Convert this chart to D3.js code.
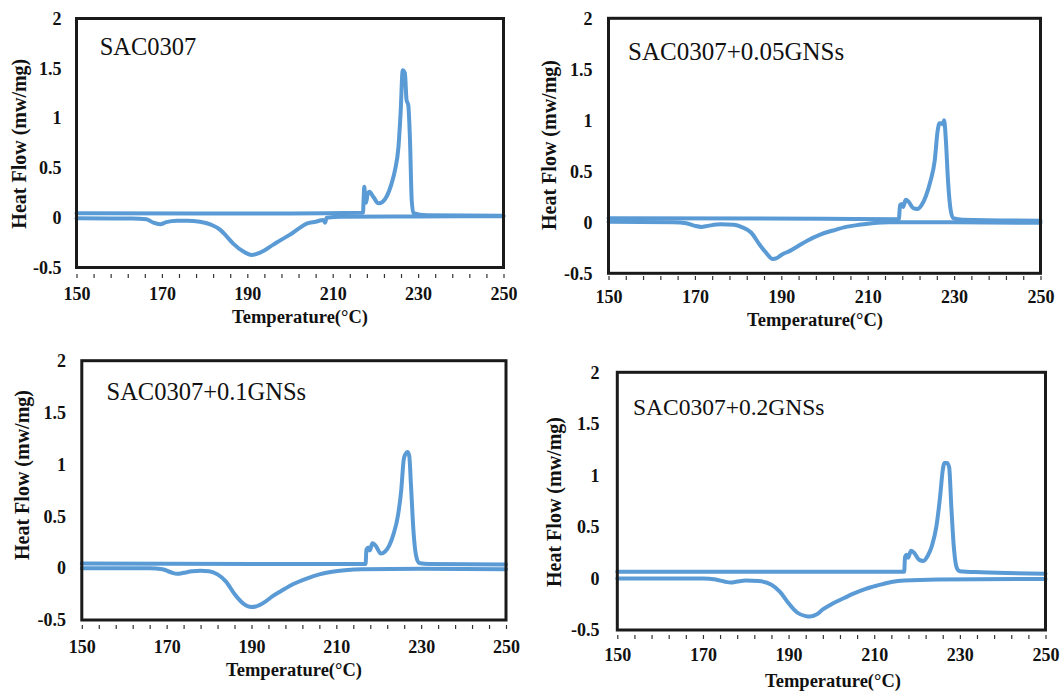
<!DOCTYPE html>
<html>
<head>
<meta charset="utf-8">
<script src="https://cdn.jsdelivr.net/npm/d3@7"></script>
<style>
  body { margin: 0; background: #fff; }
  svg { display: block; }
  text { font-family: "Liberation Serif", "Times New Roman", serif; fill: #111; }
</style>
</head>
<body>
<svg id="chart" width="1061" height="694"></svg>
<script>
// axis values
const xTickLabels = [150, 170, 190, 210, 230, 250];
const xMinorTicks = d3.range(150, 251, 4);
const yTickLabels = [-0.5, 0, 0.5, 1, 1.5, 2];
const panelNames = ["SAC0307", "SAC0307+0.05GNSs", "SAC0307+0.1GNSs", "SAC0307+0.2GNSs"];

// [temperature °C, heat flow mw/mg]
const sac0307Heating = [[150,0.044],[180,0.042],[200,0.042],[217.1,0.05],[217.25,0.2],[217.4,0.31],[217.6,0.2],[217.8,0.15],[218.2,0.24],[218.6,0.26],[219.5,0.21],[220.7,0.145],[221.7,0.16],[222.6,0.21],[223.8,0.345],[224.6,0.48],[225.4,0.71],[225.9,1.05],[226.4,1.48],[226.9,1.45],[227.3,1.18],[227.7,1.13],[228.1,0.78],[228.5,0.18],[228.9,0.045],[232,0.025],[250,0.02]];
const sac0307Cooling = [[150,-0.006],[163,-0.008],[166.4,-0.016],[168,-0.05],[169.6,-0.066],[171,-0.045],[173.5,-0.03],[176,-0.03],[178.9,-0.04],[181.5,-0.07],[183.6,-0.12],[185,-0.18],[186.7,-0.26],[189.1,-0.34],[191,-0.375],[193,-0.35],[196.1,-0.27],[198,-0.22],[200,-0.17],[202,-0.11],[203.9,-0.06],[206,-0.04],[207.8,-0.023],[208.2,-0.05],[208.6,0.0],[212,0.01],[230,0.012],[250,0.015]];

const gns005Heating = [[150,0.04],[200,0.035],[217.2,0.03],[217.5,0.17],[217.9,0.18],[218.2,0.15],[218.8,0.22],[219.5,0.2],[220.5,0.14],[221.5,0.13],[222.5,0.17],[223.5,0.26],[224.5,0.4],[225.5,0.6],[226.2,0.9],[226.6,0.97],[227.0,0.97],[227.4,0.96],[227.7,1.0],[228.1,0.8],[228.6,0.4],[229.2,0.12],[229.8,0.04],[232,0.025],[250,0.015]];
const gns005Cooling = [[150,0.005],[165,0.0],[168,-0.01],[170,-0.035],[171.5,-0.045],[173,-0.035],[176,-0.02],[179,-0.025],[181,-0.05],[183,-0.1],[185,-0.22],[186.5,-0.3],[188,-0.36],[189,-0.35],[190,-0.32],[192,-0.28],[194,-0.23],[196,-0.18],[199,-0.12],[202,-0.08],[205,-0.045],[208,-0.025],[211,-0.01],[215,0.0],[230,0.0],[250,-0.005]];

const gns01Heating = [[150,0.045],[200,0.04],[216.9,0.04],[217.1,0.18],[217.6,0.2],[217.9,0.17],[218.5,0.24],[219.2,0.22],[220.5,0.14],[221.5,0.16],[222.5,0.22],[223.5,0.33],[224.5,0.5],[225.3,0.75],[225.9,1.05],[226.3,1.1],[226.8,1.12],[227.2,1.08],[227.6,0.8],[228.2,0.35],[228.8,0.12],[229.5,0.05],[232,0.04],[250,0.035]];
const gns01Cooling = [[150,0.0],[166,0.0],[169,-0.01],[171,-0.04],[172.5,-0.055],[174,-0.045],[176,-0.03],[178,-0.025],[180,-0.03],[182,-0.06],[184,-0.13],[186,-0.25],[188,-0.34],[190,-0.375],[191,-0.37],[193,-0.33],[195,-0.27],[197,-0.22],[200,-0.15],[203,-0.1],[206,-0.06],[209,-0.035],[212,-0.02],[216,-0.01],[230,-0.005],[250,-0.01]];

const gns02Heating = [[150,0.065],[200,0.065],[217.0,0.065],[217.2,0.21],[217.6,0.23],[217.9,0.2],[218.6,0.27],[219.3,0.25],[220.5,0.18],[221.5,0.17],[222.5,0.22],[223.5,0.32],[224.5,0.5],[225.4,0.8],[226.0,1.05],[226.4,1.12],[227.0,1.12],[227.5,1.08],[228.0,0.7],[228.6,0.3],[229.3,0.1],[230,0.07],[235,0.06],[250,0.045]];
const gns02Cooling = [[150,0.0],[170,0.0],[173,-0.01],[175,-0.03],[176.5,-0.04],[178,-0.03],[180,-0.02],[183,-0.025],[186,-0.06],[188,-0.13],[190,-0.24],[192,-0.33],[194,-0.365],[195,-0.37],[196.5,-0.35],[198,-0.3],[200,-0.25],[203,-0.19],[205,-0.15],[208,-0.1],[211,-0.065],[214,-0.035],[217,-0.02],[225,-0.01],[250,-0.005]];

const svg = d3.select("#chart");

// panel placement (box edges, label positions) in pixels
const panels = [
  { name: panelNames[0], series: [sac0307Cooling, sac0307Heating], annSize: 24.5,
    left: 76.5, top: 18.5, right: 503.5, bottom: 267.5, tickY: 274, xLabY: 294, titleX: 300, titleY: 323,
    yLabRight: 61.5, yTitleX: 19.3, yTitleY: 143.7, annX: 99.7, annY: 55 },
  { name: panelNames[1], series: [gns005Cooling, gns005Heating], annSize: 25,
    left: 608.5, top: 18.3, right: 1040.5, bottom: 273.3, tickY: 276, xLabY: 297, titleX: 815, titleY: 326,
    yLabRight: 592.6, yTitleX: 548.6, yTitleY: 145, annX: 628, annY: 60 },
  { name: panelNames[2], series: [gns01Cooling, gns01Heating], annSize: 24.5,
    left: 81.8, top: 360.7, right: 506, bottom: 620, tickY: 625, xLabY: 647, titleX: 294, titleY: 676,
    yLabRight: 66, yTitleX: 22, yTitleY: 475, annX: 106.5, annY: 400 },
  { name: panelNames[3], series: [gns02Cooling, gns02Heating], annSize: 23.5,
    left: 617.3, top: 372.3, right: 1045.5, bottom: 630, tickY: 635, xLabY: 655, titleX: 833, titleY: 687,
    yLabRight: 599.4, yTitleX: 553.7, yTitleY: 502, annX: 633, annY: 415 }
];

panels.forEach(p => {
  const g = svg.append("g");

  const x = d3.scaleLinear().domain([150, 250]).range([p.left, p.right]);
  const y = d3.scaleLinear().domain([-0.5, 2]).range([p.bottom, p.top]);

  const line = d3.line()
    .x(d => x(d[0]))
    .y(d => y(d[1]))
    .curve(d3.curveMonotoneX);

  // curves
  g.selectAll(".curve")
    .data(p.series)
    .enter()
    .append("path")
    .attr("class", "curve")
    .attr("d", line)
    .attr("fill", "none")
    .attr("stroke", "#5b9bd5")
    .attr("stroke-width", 4)
    .attr("stroke-linejoin", "round")
    .attr("stroke-linecap", "round");

  // frame
  g.append("rect")
    .attr("x", p.left)
    .attr("y", p.top)
    .attr("width", p.right - p.left)
    .attr("height", p.bottom - p.top)
    .attr("fill", "none")
    .attr("stroke", "#1a1a1a")
    .attr("stroke-width", 3);

  // small ticks under the frame
  const minor = g.append("g")
    .attr("transform", "translate(0," + p.tickY + ")")
    .call(d3.axisBottom(x).tickValues(xMinorTicks).tickSize(4).tickFormat(""));
  minor.select(".domain").remove();
  minor.selectAll(".tick line").attr("stroke", "#333").attr("stroke-width", 1.2);

  // x labels
  const xa = g.append("g")
    .attr("transform", "translate(0," + p.xLabY + ")")
    .call(d3.axisBottom(x).tickValues(xTickLabels).tickSize(0).tickPadding(0).tickFormat(d3.format("d")));
  xa.select(".domain").remove();
  xa.selectAll("text")
    .attr("y", 0)
    .attr("dy", "0.35em")
    .style("font-family", "'Liberation Serif', serif")
    .style("font-size", "18px")
    .style("font-weight", "bold")
    .attr("fill", "#111");

  // y labels
  const ya = g.append("g")
    .attr("transform", "translate(" + p.left + ",0)")
    .call(d3.axisLeft(y).tickValues(yTickLabels).tickSize(0).tickPadding(p.left - p.yLabRight).tickFormat(d => String(d)));
  ya.select(".domain").remove();
  ya.selectAll("text")
    .style("font-family", "'Liberation Serif', serif")
    .style("font-size", "18px")
    .style("font-weight", "bold")
    .attr("fill", "#111");

  // axis titles
  g.append("text")
    .attr("x", p.titleX)
    .attr("y", p.titleY)
    .attr("text-anchor", "middle")
    .style("font-size", "18.5px")
    .style("font-weight", "bold")
    .text("Temperature(°C)");

  g.append("text")
    .attr("transform", "translate(" + p.yTitleX + "," + p.yTitleY + ") rotate(-90)")
    .attr("text-anchor", "middle")
    .attr("dy", "0.35em")
    .style("font-size", "20px")
    .style("font-weight", "bold")
    .text("Heat Flow (mw/mg)");

  // sample name
  g.append("text")
    .attr("x", p.annX)
    .attr("y", p.annY)
    .style("font-size", p.annSize + "px")
    .text(p.name);
});
</script>
</body>
</html>
